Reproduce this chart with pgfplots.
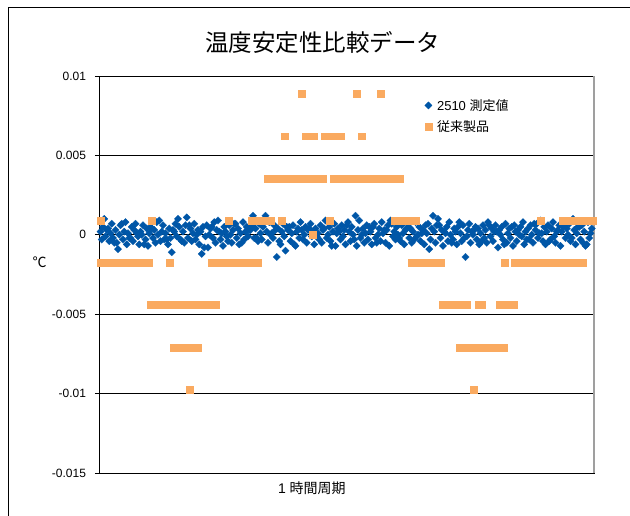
\documentclass[border=0pt]{standalone}
\usepackage{pgfplots}
\pgfplotsset{compat=1.18}
\usepackage{pgfplotstable}
\usepackage{fontspec}
\setmainfont{Liberation Sans}
\newfontfamily\jp{Noto Sans CJK JP}

\definecolor{meas}{RGB}{0,86,167}
\definecolor{conv}{RGB}{250,170,96}

% 2510 readings, one per sample (x = 1.25 per sample)
\pgfplotstableread[row sep=\\]{
y\\
2e-4\\ -3e-4\\ 5e-4\\ 10e-4\\ -1e-4\\ 3e-4\\ 4e-4\\ -4e-4\\ 1e-4\\ 7e-4\\ -2e-4\\ -5e-4\\ 3e-4\\ -5e-4\\ -9e-4\\ 0\\ 6e-4\\ 7e-4\\ -3e-4\\ 2e-4\\ 8e-4\\ -6e-4\\ 1e-4\\ -2e-4\\
-2e-4\\ 5e-4\\ -4e-4\\ 3e-4\\ 7e-4\\ 1e-4\\ -1e-4\\ -6e-4\\ 2e-4\\ 0\\ 6e-4\\ -6e-4\\ -3e-4\\ 4e-4\\ -7e-4\\ 1e-4\\ 5e-4\\ 4e-4\\ -2e-4\\ 3e-4\\ -5e-4\\ 8e-4\\ 0\\ 9e-4\\
-4e-4\\ 2e-4\\ 6e-4\\ -3e-4\\ 1e-4\\ -3e-4\\ -6e-4\\ 4e-4\\ -2e-4\\ -11e-4\\ 3e-4\\ 2e-4\\ 7e-4\\ -1e-4\\ 10e-4\\ 5e-4\\ -3e-4\\ -4e-4\\ 2e-4\\ -5e-4\\ 6e-4\\ 11e-4\\ -2e-4\\ 6e-4\\
4e-4\\ -4e-4\\ 1e-4\\ 7e-4\\ -3e-4\\ 0\\ 3e-4\\ -6e-4\\ 2e-4\\ -12e-4\\ 5e-4\\ -8e-4\\ -1e-4\\ 6e-4\\ -8e-4\\ 0\\ 4e-4\\ 5e-4\\ -2e-4\\ 8e-4\\ -5e-4\\ 3e-4\\ 9e-4\\ 2e-4\\
-3e-4\\ 1e-4\\ -7e-4\\ 5e-4\\ 2e-4\\ -1e-4\\ -4e-4\\ 6e-4\\ 0\\ -5e-4\\ 3e-4\\ 7e-4\\ 7e-4\\ -2e-4\\ 4e-4\\ -6e-4\\ 1e-4\\ -5e-4\\ 8e-4\\ -3e-4\\ 2e-4\\ 5e-4\\ -1e-4\\ 3e-4\\
3e-4\\ 6e-4\\ 12e-4\\ -2e-4\\ 4e-4\\ -2e-4\\ -4e-4\\ 7e-4\\ 1e-4\\ -3e-4\\ 5e-4\\ 8e-4\\ 12e-4\\ 2e-4\\ -5e-4\\ 8e-4\\ 0\\ 1e-4\\ -2e-4\\ 6e-4\\ 3e-4\\ -14e-4\\ 4e-4\\ -4e-4\\
-6e-4\\ 2e-4\\ 7e-4\\ -1e-4\\ -10e-4\\ 5e-4\\ 3e-4\\ 5e-4\\ -4e-4\\ 1e-4\\ 6e-4\\ -6e-4\\ -7e-4\\ 2e-4\\ 4e-4\\ -2e-4\\ 8e-4\\ 3e-4\\ -3e-4\\ 0\\ 5e-4\\ -5e-4\\ 3e-4\\ 4e-4\\
7e-4\\ -1e-4\\ 2e-4\\ -6e-4\\ 4e-4\\ -1e-4\\ 1e-4\\ -3e-4\\ 6e-4\\ -5e-4\\ 3e-4\\ 4e-4\\ 9e-4\\ -2e-4\\ 0\\ 5e-4\\ -4e-4\\ -7e-4\\ 2e-4\\ 7e-4\\ -7e-4\\ 1e-4\\ 4e-4\\ 2e-4\\
-3e-4\\ 6e-4\\ -1e-4\\ 3e-4\\ -6e-4\\ 6e-4\\ 8e-4\\ 2e-4\\ -4e-4\\ 5e-4\\ 0\\ -3e-4\\ 12e-4\\ -7e-4\\ 3e-4\\ 9e-4\\ -2e-4\\ 0\\ 4e-4\\ -5e-4\\ 1e-4\\ 6e-4\\ -3e-4\\ 5e-4\\
2e-4\\ -6e-4\\ 5e-4\\ 7e-4\\ -2e-4\\ -5e-4\\ 0\\ 4e-4\\ -4e-4\\ 8e-4\\ 1e-4\\ 3e-4\\ -5e-4\\ 3e-4\\ 6e-4\\ -7e-4\\ 9e-4\\ 7e-4\\ -1e-4\\ 2e-4\\ -3e-4\\ 5e-4\\ 0\\ -2e-4\\
-4e-4\\ 6e-4\\ 1e-4\\ -6e-4\\ 3e-4\\ 4e-4\\ 7e-4\\ -2e-4\\ 4e-4\\ -5e-4\\ 2e-4\\ -3e-4\\ 8e-4\\ -1e-4\\ 0\\ 5e-4\\ -4e-4\\ 1e-4\\ 3e-4\\ -6e-4\\ 6e-4\\ 1e-4\\ 7e-4\\ -9e-4\\
-3e-4\\ 4e-4\\ 12e-4\\ 2e-4\\ -5e-4\\ 6e-4\\ 10e-4\\ 6e-4\\ -2e-4\\ 3e-4\\ -7e-4\\ 2e-4\\ 1e-4\\ 5e-4\\ -4e-4\\ 8e-4\\ 0\\ -5e-4\\ -3e-4\\ 4e-4\\ 2e-4\\ -6e-4\\ 5e-4\\ 8e-4\\
1e-4\\ -4e-4\\ 6e-4\\ -2e-4\\ -14e-4\\ -1e-4\\ 3e-4\\ 7e-4\\ -5e-4\\ 2e-4\\ 0\\ 3e-4\\ 5e-4\\ -3e-4\\ 4e-4\\ -6e-4\\ 1e-4\\ -4e-4\\ 6e-4\\ -2e-4\\ 3e-4\\ -5e-4\\ 8e-4\\ 6e-4\\
-1e-4\\ 4e-4\\ -4e-4\\ 2e-4\\ 6e-4\\ 2e-4\\ -8e-4\\ 3e-4\\ 0\\ 5e-4\\ -3e-4\\ -6e-4\\ 7e-4\\ -5e-4\\ 1e-4\\ 4e-4\\ -2e-4\\ 5e-4\\ -7e-4\\ 6e-4\\ 2e-4\\ -4e-4\\ 3e-4\\ 0\\
5e-4\\ -1e-4\\ 8e-4\\ -6e-4\\ 2e-4\\ -3e-4\\ 4e-4\\ -3e-4\\ 6e-4\\ 0\\ -5e-4\\ 7e-4\\ 3e-4\\ 7e-4\\ -2e-4\\ 1e-4\\ 9e-4\\ 1e-4\\ -4e-4\\ 5e-4\\ -6e-4\\ 2e-4\\ 6e-4\\ -4e-4\\
-3e-4\\ 4e-4\\ 8e-4\\ -1e-4\\ -5e-4\\ 2e-4\\ 3e-4\\ 6e-4\\ -7e-4\\ 2e-4\\ 5e-4\\ 6e-4\\ -2e-4\\ 4e-4\\ 0\\ 7e-4\\ -4e-4\\ -2e-4\\ 10e-4\\ 3e-4\\ -6e-4\\ 1e-4\\ 5e-4\\ 5e-4\\
-3e-4\\ 6e-4\\ -5e-4\\ 2e-4\\ -7e-4\\ -6e-4\\ 8e-4\\ -2e-4\\ 1e-4\\ 4e-4\\
}\measured

\begin{document}
\begin{tikzpicture}[x=1pt,y=1pt]
\path[use as bounding box] (0,0) rectangle (630,515);
\draw[line width=1.6pt] (8.5,-10) -- (8.5,507.3) -- (645,507.3);

\begin{axis}[
    at={(99pt,42pt)}, anchor=south west,
    scale only axis, width=495pt, height=397pt,
    xmin=0, xmax=495,
    ymin=-0.015, ymax=0.01,
    xtick=\empty,
    ytick={-0.015,-0.01,-0.005,0,0.005,0.01},
    yticklabels={-0.015,-0.01,-0.005,0,0.005,0.01},
    scaled y ticks=false,
    ymajorgrids=true,
    grid style={black, line width=0.8pt},
    tick align=outside, ytick pos=left, major tick length=4pt,
    tick style={black, line width=0.8pt},
    axis line style={black, line width=0.9pt},
    yticklabel style={font=\fontsize{12}{14}\selectfont, xshift=-5.5pt},
    clip=false,
    title={\jp 温度安定性比較データ},
    title style={font=\fontsize{23.5}{26}\selectfont, at={(0.4525,1)}, anchor=center, yshift=28pt},
    xlabel={1 {\jp 時間周期}},
    xlabel style={font=\fontsize{14}{16}\selectfont, at={(0.43,0)}, anchor=center, yshift=-15pt},
    ylabel={\jp ℃},
    ylabel style={font=\fontsize{14}{16}\selectfont, rotate=-90, at={(-0.12,0.531)}, anchor=center},
    legend image code/.code={\draw[#1] plot coordinates {(0pt,0pt)};},
    legend cell align=left,
    legend style={draw=none, fill=none, at={(0.6576,0.947)}, anchor=north west,
        inner sep=0pt, row sep=4.5pt,
        font=\fontsize{13}{15}\selectfont,
        nodes={inner sep=2pt},
        /tikz/every odd column/.append style={column sep=3pt}},
]
\addplot[only marks, mark=square*, mark size=2.6pt,
    mark options={rotate=45, fill=meas, draw=meas, line width=0.2pt}]
    table[x expr=\coordindex*1.25+1.5, y=y] {\measured};
\addlegendentry{2510 {\jp 測定値}}

\addplot[only marks, mark=square*, mark size=3.4pt,
    mark options={fill=conv, draw=conv, line width=0.2pt}]
    coordinates {
    % level -0.00176
    (1.5,-0.00176)(4.5,-0.00176)(7.5,-0.00176)(10.5,-0.00176)(13.5,-0.00176)(16.5,-0.00176)
    (19.5,-0.00176)(22.5,-0.00176)(25.5,-0.00176)(28.5,-0.00176)(31.5,-0.00176)(34.5,-0.00176)
    (37.5,-0.00176)(40.5,-0.00176)(43.5,-0.00176)(46.5,-0.00176)(49.5,-0.00176)
    (70.5,-0.00176)
    (112.5,-0.00176)(115.5,-0.00176)(118.5,-0.00176)(121.5,-0.00176)(124.5,-0.00176)(127.5,-0.00176)
    (130.5,-0.00176)(133.5,-0.00176)(136.5,-0.00176)(139.5,-0.00176)(142.5,-0.00176)(145.5,-0.00176)
    (148.5,-0.00176)(151.5,-0.00176)(154.5,-0.00176)(157.5,-0.00176)(158.5,-0.00176)
    (312.5,-0.00176)(315.5,-0.00176)(318.5,-0.00176)(321.5,-0.00176)(324.5,-0.00176)(327.5,-0.00176)
    (330.5,-0.00176)(333.5,-0.00176)(336.5,-0.00176)(339.5,-0.00176)(341.5,-0.00176)
    (405.5,-0.00176)
    (415.5,-0.00176)(418.5,-0.00176)(421.5,-0.00176)(424.5,-0.00176)(427.5,-0.00176)(430.5,-0.00176)
    (433.5,-0.00176)(436.5,-0.00176)(439.5,-0.00176)(442.5,-0.00176)(445.5,-0.00176)(448.5,-0.00176)
    (451.5,-0.00176)(454.5,-0.00176)(457.5,-0.00176)(460.5,-0.00176)(463.5,-0.00176)(466.5,-0.00176)
    (469.5,-0.00176)(472.5,-0.00176)(475.5,-0.00176)(478.5,-0.00176)(481.5,-0.00176)(483.5,-0.00176)
    % level 0.0009
    (1.5,0.0009)(52.5,0.0009)(129.5,0.0009)
    (152.5,0.0009)(155.5,0.0009)(158.5,0.0009)(161.5,0.0009)(164.5,0.0009)(167.5,0.0009)(170.5,0.0009)(171.5,0.0009)
    (182.5,0.0009)(230.5,0.0009)
    (295.5,0.0009)(298.5,0.0009)(301.5,0.0009)(304.5,0.0009)(307.5,0.0009)(310.5,0.0009)(313.5,0.0009)(316.5,0.0009)
    (441.5,0.0009)
    (463.5,0.0009)(466.5,0.0009)(469.5,0.0009)(472.5,0.0009)(475.5,0.0009)(478.5,0.0009)
    (481.5,0.0009)(484.5,0.0009)(487.5,0.0009)(490.5,0.0009)(493.5,0.0009)
    % single reading at 0
    (213.5,0)
    % level -0.00442
    (51.5,-0.00442)(54.5,-0.00442)(57.5,-0.00442)(60.5,-0.00442)(63.5,-0.00442)(66.5,-0.00442)
    (69.5,-0.00442)(72.5,-0.00442)(75.5,-0.00442)(78.5,-0.00442)(81.5,-0.00442)(84.5,-0.00442)
    (87.5,-0.00442)(90.5,-0.00442)(93.5,-0.00442)(96.5,-0.00442)(99.5,-0.00442)(102.5,-0.00442)
    (105.5,-0.00442)(108.5,-0.00442)(111.5,-0.00442)(114.5,-0.00442)(116.5,-0.00442)
    (343.5,-0.00442)(346.5,-0.00442)(349.5,-0.00442)(352.5,-0.00442)(355.5,-0.00442)(358.5,-0.00442)
    (361.5,-0.00442)(364.5,-0.00442)(367.5,-0.00442)
    (379.5,-0.00442)(382.5,-0.00442)
    (400.5,-0.00442)(403.5,-0.00442)(406.5,-0.00442)(409.5,-0.00442)(412.5,-0.00442)(414.5,-0.00442)
    % level -0.00708
    (74.5,-0.00708)(77.5,-0.00708)(80.5,-0.00708)(83.5,-0.00708)(86.5,-0.00708)(89.5,-0.00708)
    (92.5,-0.00708)(95.5,-0.00708)(98.5,-0.00708)
    (360.5,-0.00708)(363.5,-0.00708)(366.5,-0.00708)(369.5,-0.00708)(372.5,-0.00708)(375.5,-0.00708)
    (378.5,-0.00708)(381.5,-0.00708)(384.5,-0.00708)(387.5,-0.00708)(390.5,-0.00708)(393.5,-0.00708)
    (396.5,-0.00708)(399.5,-0.00708)(402.5,-0.00708)(404.5,-0.00708)
    % level -0.00974
    (90.5,-0.00974)(374.5,-0.00974)
    % level 0.00356
    (168.5,0.00356)(171.5,0.00356)(174.5,0.00356)(177.5,0.00356)(180.5,0.00356)(183.5,0.00356)
    (186.5,0.00356)(189.5,0.00356)(192.5,0.00356)(195.5,0.00356)(198.5,0.00356)(201.5,0.00356)
    (204.5,0.00356)(207.5,0.00356)(210.5,0.00356)(213.5,0.00356)(216.5,0.00356)(219.5,0.00356)
    (222.5,0.00356)(223.5,0.00356)
    (234.5,0.00356)(237.5,0.00356)(240.5,0.00356)(243.5,0.00356)(246.5,0.00356)(249.5,0.00356)
    (252.5,0.00356)(255.5,0.00356)(258.5,0.00356)(261.5,0.00356)(264.5,0.00356)(267.5,0.00356)
    (270.5,0.00356)(273.5,0.00356)(276.5,0.00356)(279.5,0.00356)(282.5,0.00356)(285.5,0.00356)
    (288.5,0.00356)(291.5,0.00356)(294.5,0.00356)(297.5,0.00356)(300.5,0.00356)
    % level 0.00622
    (185.5,0.00622)
    (206.5,0.00622)(209.5,0.00622)(212.5,0.00622)(214.5,0.00622)
    (225.5,0.00622)(228.5,0.00622)(231.5,0.00622)(234.5,0.00622)(237.5,0.00622)(240.5,0.00622)(241.5,0.00622)
    (262.5,0.00622)
    % level 0.00888
    (202.5,0.00888)(257.5,0.00888)(281.5,0.00888)
    };
\addlegendentry{\jp 従来製品}

\draw[gray!75, line width=1.4pt] (rel axis cs:1,0) -- (rel axis cs:1,1);
\end{axis}
\end{tikzpicture}
\end{document}
